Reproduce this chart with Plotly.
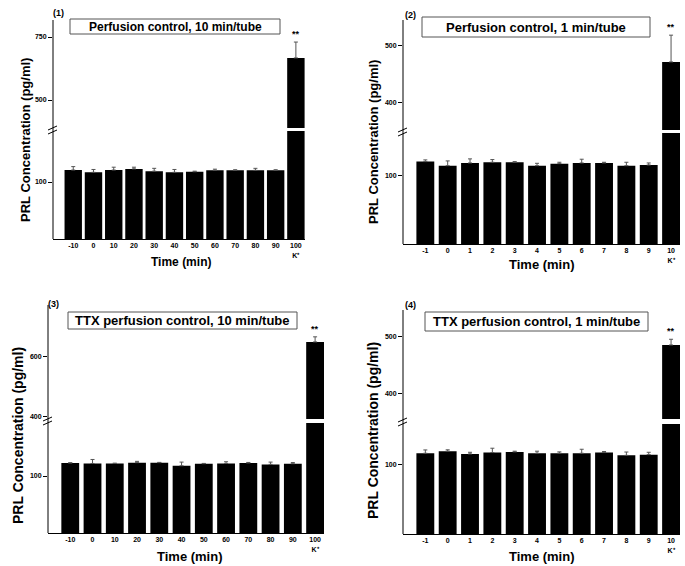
import plotly.graph_objects as go

W, H = 685, 566

# ---------------- data ----------------
times_10 = ["-10", "0", "10", "20", "30", "40", "50", "60", "70", "80", "90"]
times_1 = ["-1", "0", "1", "2", "3", "4", "5", "6", "7", "8", "9"]
k_label_10 = "100<br>K⁺"
k_label_1 = "10<br>K⁺"

p1_vals = [121, 117, 121, 123, 119, 117, 118, 120.5, 120.5, 120.5, 120.5]
p1_err = [6, 5, 5, 3, 5, 5, 1, 2, 1, 3.5, 1]
p1_k, p1_kerr = 667, 63

p2_vals = [121, 115, 119, 120, 120, 115, 118, 119, 119, 115, 116]
p2_err = [2.5, 7, 6, 4, 1, 3.5, 2, 5.5, 1, 5, 3]
p2_k, p2_kerr = 472, 47

p3_vals = [122.8, 122, 122, 123.4, 123.4, 118, 121.6, 122, 122.8, 120.4, 121.6]
p3_err = [0.5, 7, 0.5, 2.3, 0.5, 6.4, 0.5, 3, 1, 4, 2]
p3_k, p3_kerr = 650, 17

p4_vals = [117, 120, 116, 118, 119, 117, 117, 117, 118, 114, 115]
p4_err = [4.8, 2, 2.4, 6.3, 1, 3, 2, 5.8, 1.5, 4.8, 3.4]
p4_k, p4_kerr = 486, 10

titles = ["Perfusion control, 10 min/tube", "Perfusion control, 1 min/tube",
          "TTX perfusion control, 10 min/tube", "TTX perfusion control, 1 min/tube"]
panel_tags = ["(1)", "(2)", "(3)", "(4)"]
x_title = "Time (min)"
y_title = "PRL Concentration (pg/ml)"

# ---------------- geometry (pixels) ----------------
panels = [
    dict(labels=times_10 + [k_label_10], vals=p1_vals, err=p1_err, k=p1_k, kerr=p1_kerr,
         ax=53, right=305, xr=[-1, 11.45], bw=0.86,
         bottom=239, ltop=131, ubot=128, top=20,
         lr=[0, 189.5], ur=[389, 817.5], lt=[100], ut=[500, 750],
         box=(70, 19, 280, 34), tsz=12, tag=(58, 13), ytx=(25, 140), ysz=13,
         xtx=(181, 262), xsz=12, brk=130),
    dict(labels=times_1 + [k_label_1], vals=p2_vals, err=p2_err, k=p2_k, kerr=p2_kerr,
         ax=403, right=680, xr=[-1, 11.4], bw=0.8,
         bottom=244, ltop=133, ubot=130, top=20,
         lr=[0, 163], ur=[352.6, 545.6], lt=[100], ut=[400, 500],
         box=(422, 17, 650, 37), tsz=13, tag=(410, 15), ytx=(373, 142), ysz=13,
         xtx=(542, 264), xsz=13, brk=132),
    dict(labels=times_10 + [k_label_10], vals=p3_vals, err=p3_err, k=p3_k, kerr=p3_kerr,
         ax=48, right=324, xr=[-1, 11.4], bw=0.8,
         bottom=533, ltop=423, ubot=419, top=305,
         lr=[0, 193], ur=[393.3, 773], lt=[100], ut=[400, 600],
         box=(68, 312, 297, 329), tsz=13, tag=(53, 304), ytx=(18, 436), ysz=14,
         xtx=(190, 556), xsz=13, brk=421),
    dict(labels=times_1 + [k_label_1], vals=p4_vals, err=p4_err, k=p4_k, kerr=p4_kerr,
         ax=403, right=680, xr=[-1, 11.4], bw=0.8,
         bottom=534, ltop=424, ubot=419, top=310,
         lr=[0, 159.4], ur=[356, 547.4], lt=[100], ut=[400, 500],
         box=(425, 312, 648, 331), tsz=13, tag=(410, 305), ytx=(373, 431), ysz=14,
         xtx=(542, 556), xsz=13, brk=422),
]

FONT = "Liberation Sans, Arial, Helvetica, sans-serif"


def fx(px):
    return px / W


def fy(py):
    return 1 - py / H


def akey(letter, n):
    return f"{letter}axis" if n == 1 else f"{letter}axis{n}"


fig = go.Figure()
layout = {}
shapes = []
annotations = []
err_style = dict(color="#555555", thickness=1, width=2)

for i, p in enumerate(panels):
    nl, nu = 2 * i + 1, 2 * i + 2
    xl, xu = f"x{nl}", f"x{nu}"
    yl, yu = f"y{nl}", f"y{nu}"
    n = len(p["labels"])
    idx = list(range(n))

    fig.add_trace(go.Bar(
        x=idx[:-1], y=p["vals"], width=p["bw"], marker=dict(color="black", line=dict(width=0)),
        error_y=dict(type="data", symmetric=False, array=p["err"],
                     arrayminus=[0] * len(p["err"]), **err_style),
        xaxis=xl, yaxis=yl, showlegend=False, hoverinfo="skip"))
    fig.add_trace(go.Bar(
        x=[idx[-1]], y=[p["k"]], width=p["bw"], marker=dict(color="black", line=dict(width=0)),
        xaxis=xl, yaxis=yl, showlegend=False, hoverinfo="skip"))
    fig.add_trace(go.Bar(
        x=[idx[-1]], y=[p["k"]], width=p["bw"], marker=dict(color="black", line=dict(width=0)),
        error_y=dict(type="data", symmetric=False, array=[p["kerr"]], arrayminus=[0], **err_style),
        xaxis=xu, yaxis=yu, showlegend=False, hoverinfo="skip"))

    xdom = [fx(p["ax"]), fx(p["right"])]
    layout[akey("x", nl)] = dict(
        domain=xdom, anchor=yl, range=p["xr"], tickmode="array", tickvals=idx,
        ticktext=p["labels"], ticks="", showline=True, linecolor="black", linewidth=1,
        showgrid=False, zeroline=False,
        tickfont=dict(family=FONT, size=7, color="black", weight="bold"))
    layout[akey("x", nu)] = dict(domain=xdom, anchor=yu, range=p["xr"], visible=False)
    ycommon = dict(ticks="outside", ticklen=4, tickcolor="black", tickwidth=1,
                   showline=False, showgrid=False, zeroline=False, tickmode="array",
                   tickfont=dict(family=FONT, size=7, color="black", weight="bold"))
    layout[akey("y", nl)] = dict(domain=[fy(p["bottom"]), fy(p["ltop"])], anchor=xl,
                                 range=p["lr"], tickvals=p["lt"], **ycommon)
    layout[akey("y", nu)] = dict(domain=[fy(p["ubot"]), fy(p["top"])], anchor=xu,
                                 range=p["ur"], tickvals=p["ut"], **ycommon)

    # continuous y-axis line
    shapes.append(dict(type="line", xref="paper", yref="paper",
                       x0=fx(p["ax"]), x1=fx(p["ax"]), y0=fy(p["bottom"]), y1=fy(p["top"]),
                       line=dict(color="black", width=1)))
    # break marks
    b = p["brk"]
    for off in (-2, 2):
        shapes.append(dict(type="line", xref="paper", yref="paper",
                           x0=fx(p["ax"] - 5), y0=fy(b + off + 2),
                           x1=fx(p["ax"] + 4), y1=fy(b + off - 2),
                           line=dict(color="black", width=1)))
    # title box
    bx0, by0, bx1, by1 = p["box"]
    shapes.append(dict(type="rect", xref="paper", yref="paper",
                       x0=fx(bx0), x1=fx(bx1), y0=fy(by1), y1=fy(by0),
                       line=dict(color="#555555", width=1), fillcolor="white"))
    annotations.append(dict(xref="paper", yref="paper", x=fx((bx0 + bx1) / 2),
                            y=fy((by0 + by1) / 2), text=f"<b>{titles[i]}</b>", showarrow=False,
                            xanchor="center", yanchor="middle",
                            font=dict(family=FONT, size=p["tsz"], color="black")))
    # panel tag
    annotations.append(dict(xref="paper", yref="paper", x=fx(p["tag"][0]), y=fy(p["tag"][1]),
                            text=f"<b>{panel_tags[i]}</b>", showarrow=False,
                            xanchor="center", yanchor="middle",
                            font=dict(family=FONT, size=9, color="black")))
    # axis titles
    annotations.append(dict(xref="paper", yref="paper", x=fx(p["ytx"][0]), y=fy(p["ytx"][1]),
                            text=f"<b>{y_title}</b>", showarrow=False, textangle=-90,
                            xanchor="center", yanchor="middle",
                            font=dict(family=FONT, size=p["ysz"], color="black")))
    annotations.append(dict(xref="paper", yref="paper", x=fx(p["xtx"][0]), y=fy(p["xtx"][1]),
                            text=f"<b>{x_title}</b>", showarrow=False,
                            xanchor="center", yanchor="middle",
                            font=dict(family=FONT, size=p["xsz"], color="black")))
    # significance stars
    annotations.append(dict(xref=xu, yref=yu, x=idx[-1], y=p["k"] + p["kerr"],
                            text="<b>**</b>", showarrow=False, xanchor="center",
                            yanchor="bottom", yshift=1,
                            font=dict(family=FONT, size=9, color="black")))

fig.update_layout(
    width=W, height=H, margin=dict(l=0, r=0, t=0, b=0),
    paper_bgcolor="white", plot_bgcolor="white", barmode="overlay",
    shapes=shapes, annotations=annotations, **layout)

fig.write_html(
    "out.html",
    config={"displayModeBar": False},
    post_script="document.body.style.margin='0';document.body.style.padding='0';"
                "document.body.style.overflow='hidden';")
